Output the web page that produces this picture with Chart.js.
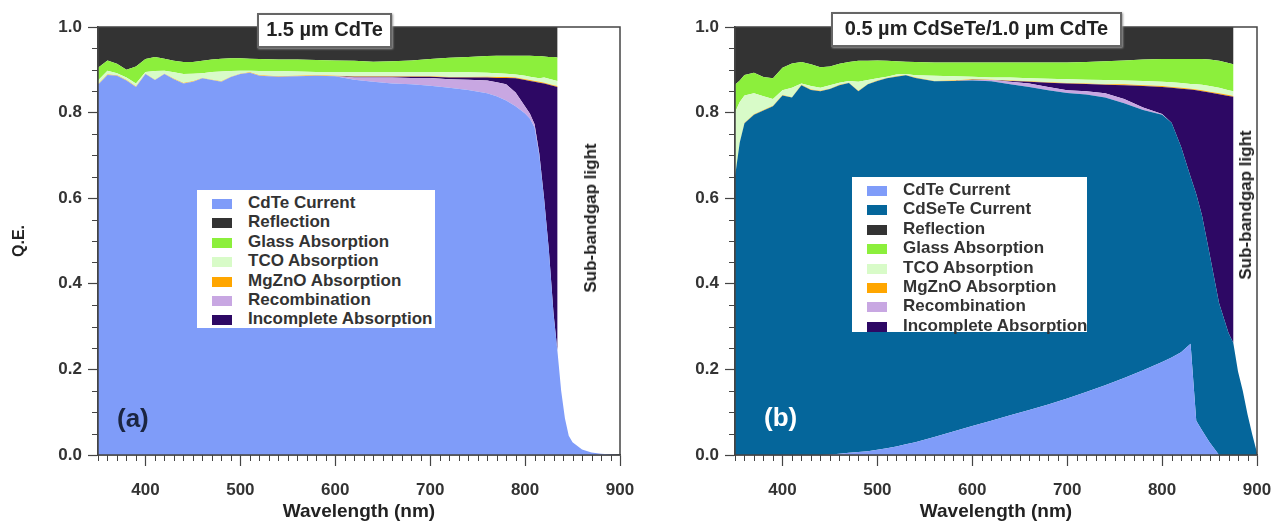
<!DOCTYPE html>
<html>
<head>
<meta charset="utf-8">
<title>Q.E. loss analysis</title>
<script src="https://cdn.jsdelivr.net/npm/chart.js@4.4.1/dist/chart.umd.min.js"></script>
<style>
  body { margin: 0; background: #fff; font-family: "Liberation Sans", Arial, sans-serif; }
  #wrap { position: relative; width: 1283px; height: 523px; overflow: hidden; }
  canvas { position: absolute; top: 0; }
  #chartA { left: 0; }
  #chartB { left: 640px; }
  .titlebox { position: absolute; background: #fff; border: 2px solid #666; box-shadow: 1px 1px 2px #999;
              font-weight: bold; font-size: 20px; color: #222; text-align: center; line-height: 29px; z-index: 2; }
  .subgap { position: absolute; font-weight: bold; font-size: 17px; color: #222; white-space: nowrap;
            transform: translate(-50%, -50%) rotate(-90deg); z-index: 2; }
  .panel-tag { position: absolute; font-weight: bold; font-size: 26px; z-index: 2; }
  .legend { position: absolute; background: #fff; z-index: 2; padding-top: 3px; }
  .legend div { height: 19.4px; line-height: 19.4px; font-weight: bold; font-size: 17px; color: #333; white-space: nowrap; }
  .legend span { display: inline-block; width: 20px; height: 10px; margin: 0 16px 0 15px; vertical-align: -1px; }
</style>
</head>
<body>
<div id="wrap">
  <canvas id="chartA" width="640" height="523"></canvas>
  <canvas id="chartB" width="643" height="523"></canvas>

  <div class="titlebox" style="left:257px; top:13px; width:131px; height:31px;">1.5 µm CdTe</div>
  <div class="titlebox" style="left:831px; top:12px; width:287px; height:31px;">0.5 µm CdSeTe/1.0 µm CdTe</div>

  <div class="subgap" style="left:591px; top:218px;">Sub-bandgap light</div>
  <div class="subgap" style="left:1246px; top:205px;">Sub-bandgap light</div>

  <div class="panel-tag" style="left:117px; top:403px; color:#1b2541;">(a)</div>
  <div class="panel-tag" style="left:764px; top:402px; color:#fff;">(b)</div>

  <div class="legend" id="legendA" style="left:197px; top:190px; width:238px; height:135px;"></div>
  <div class="legend" id="legendB" style="left:852px; top:177px; width:235px; height:152px;"></div>
</div>

<script>
// ---- (a) 1.5 um CdTe ----
const wavelengthA = [350, 360, 370, 380, 390, 400, 410, 420, 430, 440, 450, 460, 470, 480, 490, 500, 510,
  520, 540, 560, 580, 600, 620, 640, 660, 680, 700, 720, 740, 760, 770, 780, 790, 800,
  805, 810, 815, 820, 825, 830, 834, 834, 838, 842, 846, 850, 860, 870, 880, 900];
const cdteA = [0.865, 0.888, 0.886, 0.875, 0.86, 0.89, 0.876, 0.89, 0.878, 0.868, 0.872, 0.88, 0.876, 0.872, 0.883, 0.89, 0.893,
  0.886, 0.884, 0.885, 0.886, 0.885, 0.877, 0.872, 0.868, 0.866, 0.863, 0.858, 0.853, 0.845, 0.838, 0.828, 0.815, 0.798,
  0.786, 0.765, 0.70, 0.60, 0.48, 0.33, 0.245, 0.245, 0.15, 0.085, 0.045, 0.03, 0.013, 0.006, 0.003, 0];
const recombA = [0, 0, 0, 0, 0, 0, 0, 0, 0, 0, 0, 0, 0, 0, 0, 0, 0,
  0, 0, 0, 0, 0, 0.005, 0.01, 0.014, 0.015, 0.018, 0.02, 0.024, 0.03, 0.033, 0.038, 0.032, 0.016,
  0.012, 0.008, 0.004, 0, 0, 0, 0, 0, 0, 0, 0, 0, 0, 0, 0, 0];
const incompleteA = [0, 0, 0, 0, 0, 0, 0, 0, 0, 0, 0, 0, 0, 0, 0, 0, 0,
  0, 0, 0, 0, 0, 0.002, 0.002, 0.002, 0.003, 0.003, 0.004, 0.005, 0.007, 0.01, 0.015, 0.033, 0.062,
  0.076, 0.099, 0.166, 0.268, 0.385, 0.532, 0.615, 0, 0, 0, 0, 0, 0, 0, 0, 0];
const mgznoA = [0.001, 0.001, 0.001, 0.001, 0.001, 0.001, 0.001, 0.001, 0.001, 0.001, 0.001, 0.001, 0.001, 0.001, 0.001, 0.001, 0.001,
  0.001, 0.001, 0.001, 0.001, 0.001, 0.001, 0.001, 0.001, 0.001, 0.001, 0.001, 0.001, 0.002, 0.002, 0.002, 0.002, 0.002,
  0.002, 0.002, 0.002, 0.002, 0.002, 0.002, 0.002, 0, 0, 0, 0, 0, 0, 0, 0, 0];
const tcoA = [0.009, 0.009, 0.005, 0.006, 0.007, 0.004, 0.02, 0.007, 0.015, 0.021, 0.018, 0.011, 0.018, 0.023, 0.013, 0.007, 0.004,
  0.01, 0.012, 0.01, 0.008, 0.009, 0.01, 0.01, 0.01, 0.01, 0.01, 0.011, 0.011, 0.009, 0.009, 0.008, 0.007, 0.008,
  0.008, 0.008, 0.008, 0.012, 0.012, 0.012, 0.012, 0, 0, 0, 0, 0, 0, 0, 0, 0];
const glassA = [0.03, 0.024, 0.022, 0.018, 0.04, 0.03, 0.033, 0.028, 0.027, 0.028, 0.027, 0.029, 0.029, 0.03, 0.03, 0.029, 0.028,
  0.028, 0.027, 0.028, 0.028, 0.027, 0.026, 0.024, 0.025, 0.027, 0.03, 0.034, 0.036, 0.039, 0.041, 0.042, 0.044, 0.047,
  0.049, 0.05, 0.052, 0.049, 0.051, 0.054, 0.055, 0, 0, 0, 0, 0, 0, 0, 0, 0];
const reflectionA = [0.095, 0.078, 0.086, 0.10, 0.092, 0.075, 0.07, 0.074, 0.079, 0.082, 0.082, 0.079, 0.076, 0.074, 0.073, 0.073, 0.074,
  0.075, 0.076, 0.076, 0.077, 0.078, 0.079, 0.081, 0.08, 0.078, 0.075, 0.072, 0.07, 0.068, 0.067, 0.067, 0.067, 0.067,
  0.067, 0.068, 0.068, 0.069, 0.07, 0.07, 0.071, 0, 0, 0, 0, 0, 0, 0, 0, 0];

// ---- (b) 0.5 um CdSeTe / 1.0 um CdTe ----
const wavelengthB = [350, 355, 360, 370, 380, 390, 400, 410, 420, 430, 440, 450, 460, 470, 480, 490, 500, 510, 520, 530, 540,
  560, 580, 600, 620, 640, 660, 680, 700, 720, 740, 760, 780, 800,
  810, 820, 830, 836, 842, 850, 860, 870, 875, 875, 880, 885, 890, 895, 900];
const cdteB = [0, 0, 0, 0, 0, 0, 0, 0, 0, 0, 0, 0.001, 0.003, 0.005, 0.007, 0.009, 0.012, 0.016, 0.02, 0.025, 0.03,
  0.042, 0.055, 0.068, 0.08, 0.093, 0.105, 0.118, 0.132, 0.147, 0.163, 0.18, 0.198, 0.217,
  0.228, 0.24, 0.26, 0.08, 0.058, 0.03, 0, 0, 0, 0, 0, 0, 0, 0, 0];
const cdseteB = [0.65, 0.73, 0.775, 0.795, 0.805, 0.815, 0.84, 0.835, 0.864, 0.853, 0.85, 0.854, 0.861, 0.864, 0.843, 0.857, 0.862, 0.864, 0.864, 0.862, 0.851,
  0.831, 0.819, 0.807, 0.793, 0.773, 0.755, 0.734, 0.714, 0.695, 0.672, 0.642, 0.608, 0.578,
  0.548, 0.48, 0.39, 0.53, 0.502, 0.44, 0.355, 0.285, 0.262, 0.262, 0.195, 0.15, 0.095, 0.048, 0.005];
const recombB = [0, 0, 0, 0, 0, 0, 0, 0, 0, 0, 0, 0, 0, 0, 0, 0, 0, 0, 0, 0, 0,
  0, 0, 0.001, 0.003, 0.006, 0.008, 0.008, 0.006, 0.008, 0.01, 0.01, 0.006, 0.002,
  0, 0, 0, 0, 0, 0, 0, 0, 0, 0, 0, 0, 0, 0, 0];
const incompleteB = [0, 0, 0, 0, 0, 0, 0, 0, 0, 0, 0, 0, 0, 0, 0, 0, 0, 0, 0, 0, 0,
  0, 0, 0.001, 0, 0.002, 0.004, 0.01, 0.016, 0.017, 0.02, 0.032, 0.05, 0.063,
  0.082, 0.136, 0.204, 0.242, 0.29, 0.377, 0.488, 0.554, 0.575, 0, 0, 0, 0, 0, 0];
const mgznoB = [0.001, 0.001, 0.001, 0.001, 0.001, 0.001, 0.001, 0.001, 0.001, 0.001, 0.001, 0.001, 0.001, 0.001, 0.001, 0.001, 0.001, 0.001, 0.001, 0.001, 0.001,
  0.001, 0.001, 0.001, 0.001, 0.001, 0.001, 0.001, 0.001, 0.001, 0.001, 0.002, 0.002, 0.002,
  0.002, 0.002, 0.002, 0.002, 0.002, 0.002, 0.002, 0.002, 0.002, 0, 0, 0, 0, 0, 0];
const tcoB = [0.149, 0.094, 0.064, 0.049, 0.032, 0.016, 0.011, 0.022, 0.003, 0.008, 0.007, 0.008, 0.005, 0.004, 0.021, 0.009, 0.005, 0.003, 0.004, 0.002, 0.005,
  0.012, 0.01, 0.006, 0.005, 0.007, 0.007, 0.008, 0.009, 0.009, 0.01, 0.009, 0.01, 0.01,
  0.011, 0.011, 0.011, 0.012, 0.013, 0.013, 0.013, 0.011, 0.011, 0, 0, 0, 0, 0, 0];
const glassB = [0.065, 0.05, 0.048, 0.048, 0.045, 0.048, 0.053, 0.057, 0.05, 0.051, 0.048, 0.044, 0.044, 0.044, 0.049, 0.045, 0.042, 0.037, 0.031, 0.029, 0.031,
  0.031, 0.032, 0.033, 0.035, 0.035, 0.037, 0.038, 0.039, 0.041, 0.044, 0.047, 0.05, 0.053,
  0.054, 0.056, 0.058, 0.059, 0.06, 0.062, 0.063, 0.064, 0.063, 0, 0, 0, 0, 0, 0];
const reflectionB = [0.135, 0.125, 0.112, 0.107, 0.117, 0.12, 0.095, 0.085, 0.082, 0.087, 0.094, 0.092, 0.086, 0.082, 0.079, 0.079, 0.078, 0.079, 0.08, 0.081, 0.082,
  0.083, 0.083, 0.083, 0.083, 0.083, 0.083, 0.083, 0.083, 0.082, 0.08, 0.078, 0.076, 0.075,
  0.075, 0.075, 0.075, 0.075, 0.075, 0.076, 0.079, 0.084, 0.087, 0, 0, 0, 0, 0, 0];

// axis ticks
const xMajorStep = 100;
const xMinorStep = 10;
const yMajorStep = 0.2;
const yMinorStep = 0.05;

const colors = {
  'CdTe Current': '#7f9cf9',
  'CdSeTe Current': '#05669b',
  'Recombination': '#c8a7e2',
  'Incomplete Absorption': '#2d0864',
  'MgZnO Absorption': '#ffa600',
  'TCO Absorption': '#d8fbc8',
  'Glass Absorption': '#8cef3c',
  'Reflection': '#333333'
};

const fontFamily = '"Liberation Sans", Arial, sans-serif';

// stack the layers bottom-up; each dataset fills down to the one before it
function buildLayers(wavelength, layers) {
  const running = wavelength.map(() => 0);
  return layers.map(([label, values], i) => {
    const data = wavelength.map((w, k) => {
      running[k] += values[k];
      return { x: w, y: running[k] };
    });
    return {
      label,
      data,
      backgroundColor: colors[label],
      borderWidth: 0,
      pointRadius: 0,
      tension: 0,
      fill: i === 0 ? 'origin' : '-1'
    };
  });
}

const frameAndMinorTicks = {
  id: 'frameAndMinorTicks',
  afterDraw(chart) {
    const { ctx, chartArea: a, scales: { x, y } } = chart;
    ctx.save();
    ctx.strokeStyle = '#444';
    ctx.lineWidth = 1.5;
    ctx.strokeRect(a.left, a.top, a.right - a.left, a.bottom - a.top);
    ctx.lineWidth = 1;
    ctx.beginPath();
    for (let w = x.min; w <= x.max; w += xMinorStep) {
      if (w % xMajorStep === 0) continue;
      const px = Math.round(x.getPixelForValue(w)) + 0.5;
      ctx.moveTo(px, a.bottom);
      ctx.lineTo(px, a.bottom + 6);
    }
    const n = Math.round((y.max - y.min) / yMinorStep);
    for (let i = 0; i <= n; i++) {
      if (i % Math.round(yMajorStep / yMinorStep) === 0) continue;
      const py = Math.round(y.getPixelForValue(y.min + i * yMinorStep)) + 0.5;
      ctx.moveTo(a.left - 6, py);
      ctx.lineTo(a.left, py);
    }
    ctx.stroke();
    ctx.restore();
  }
};

function makeChart(canvasId, datasets, yAxisWidth, rightPad, showYTitle) {
  const tickFont = { family: fontFamily, size: 17, weight: 'bold' };
  return new Chart(document.getElementById(canvasId), {
    type: 'line',
    data: { datasets },
    options: {
      responsive: false,
      animation: false,
      layout: { padding: { top: 27, right: rightPad, left: 0, bottom: 0 } },
      plugins: { legend: { display: false }, tooltip: { enabled: false } },
      scales: {
        x: {
          type: 'linear',
          min: 350,
          max: 900,
          afterFit: (scale) => {
            scale.height = 68;
            scale.paddingLeft = 0;
            scale.paddingRight = 0;
          },
          ticks: { stepSize: xMajorStep, includeBounds: false, maxRotation: 0, padding: 14, color: '#333', font: tickFont },
          grid: { drawOnChartArea: false, drawTicks: true, tickLength: 11, tickColor: '#444', tickWidth: 1.2 },
          border: { display: true, color: '#444', width: 1.5 },
          title: {
            display: true,
            text: 'Wavelength (nm)',
            color: '#222',
            font: { family: fontFamily, size: 19, weight: 'bold' },
            padding: { top: 0, bottom: 0 }
          }
        },
        y: {
          min: 0,
          max: 1,
          afterFit: (scale) => {
            scale.width = yAxisWidth;
            scale.paddingTop = 0;
            scale.paddingBottom = 0;
          },
          ticks: { stepSize: yMajorStep, padding: 6, color: '#333', font: tickFont, callback: (v) => v.toFixed(1) },
          grid: { drawOnChartArea: false, drawTicks: true, tickLength: 10, tickColor: '#444', tickWidth: 1.2 },
          border: { display: true, color: '#444', width: 1.5 },
          title: {
            display: showYTitle,
            text: 'Q.E.',
            color: '#222',
            font: { family: fontFamily, size: 16, weight: 'bold' },
            padding: { top: 10, bottom: 0 }
          }
        }
      }
    },
    plugins: [frameAndMinorTicks]
  });
}

function renderLegend(elId, chart, order) {
  const box = document.getElementById(elId);
  order.forEach((label) => {
    const ds = chart.data.datasets.find((d) => d.label === label);
    const row = document.createElement('div');
    const swatch = document.createElement('span');
    swatch.style.background = ds.backgroundColor;
    row.appendChild(swatch);
    row.appendChild(document.createTextNode(label));
    box.appendChild(row);
  });
}

const chartA = makeChart('chartA', buildLayers(wavelengthA, [
  ['CdTe Current', cdteA],
  ['Recombination', recombA],
  ['Incomplete Absorption', incompleteA],
  ['MgZnO Absorption', mgznoA],
  ['TCO Absorption', tcoA],
  ['Glass Absorption', glassA],
  ['Reflection', reflectionA]
]), 98, 20, true);

const chartB = makeChart('chartB', buildLayers(wavelengthB, [
  ['CdTe Current', cdteB],
  ['CdSeTe Current', cdseteB],
  ['Recombination', recombB],
  ['Incomplete Absorption', incompleteB],
  ['MgZnO Absorption', mgznoB],
  ['TCO Absorption', tcoB],
  ['Glass Absorption', glassB],
  ['Reflection', reflectionB]
]), 95, 26, false);

renderLegend('legendA', chartA, ['CdTe Current', 'Reflection', 'Glass Absorption', 'TCO Absorption',
  'MgZnO Absorption', 'Recombination', 'Incomplete Absorption']);
renderLegend('legendB', chartB, ['CdTe Current', 'CdSeTe Current', 'Reflection', 'Glass Absorption',
  'TCO Absorption', 'MgZnO Absorption', 'Recombination', 'Incomplete Absorption']);
</script>
</body>
</html>
